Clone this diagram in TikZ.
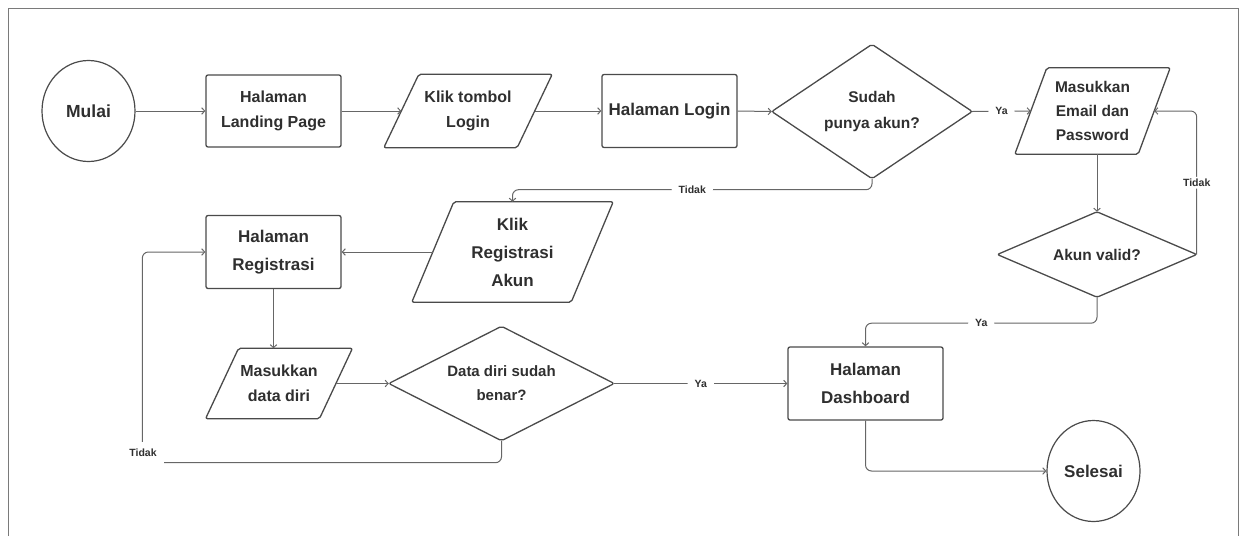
\documentclass[tikz,border=0pt]{standalone}
\usepackage{fontspec}
\setmainfont{Liberation Sans}
\usetikzlibrary{arrows.meta,shapes.geometric}

\definecolor{ink}{HTML}{2F2F2F}
\definecolor{edge}{HTML}{4A4A4A}
\definecolor{wire}{HTML}{666666}
\definecolor{framecol}{HTML}{7A7A7A}

% bold text at a given size and line spacing
\newcommand\fs[2]{\fontsize{#1}{#2}\selectfont\bfseries}

% input/output parallelogram around a (borderless) rectangular node
\newcommand\iobox[2]{%
  \draw[outline] ([xshift=-#2pt]#1.south west) -- ([xshift=-#2pt]#1.south east)
    -- ([xshift=#2pt]#1.north east) -- ([xshift=#2pt]#1.north west) -- cycle;}
% decision diamond through the four side anchors of a node
\newcommand\decision[1]{%
  \draw[outline] (#1.north) -- (#1.east) -- (#1.south) -- (#1.west) -- cycle;}

\tikzset{
  txt/.style={font=\fs{16}{25}, align=center, inner sep=0pt, text=ink},
  procbox/.style={txt, rectangle, draw=edge, line width=1.3pt, rounded corners=2pt},
  termbox/.style={txt, ellipse, draw=edge, line width=1.2pt,
                  minimum width=93pt, minimum height=101pt},
  hidden/.style={txt, rectangle},
  outline/.style={draw=edge, line width=1.3pt, rounded corners=2pt, line join=round},
  conn/.style={draw=wire, line width=1pt, rounded corners=6pt,
               -{Straight Barb[length=3pt,width=6.5pt]}},
  lbl/.style={font=\fs{10.5}{12}, fill=white, text=ink, inner xsep=7pt, inner ysep=2pt},
}

\begin{document}
\begin{tikzpicture}[x=1pt,y=-1pt]
\useasboundingbox (0,0) rectangle (1246,536);

% outer frame (open at the bottom)
\draw[draw=framecol, line width=1.3pt] (8.5,536) -- (8.5,8.5) -- (1238.5,8.5) -- (1238.5,536);

% ---- nodes ----
\node[termbox, font=\fs{17.5}{25}] (mulai) at (88.5,111) {Mulai};
\node[procbox, minimum width=135pt, minimum height=72pt] (landing) at (273.5,111) {Halaman\\Landing Page};
\node[hidden, minimum width=133pt, minimum height=73pt] (tombol) at (468,111) {Klik tombol\\Login};
\node[procbox, font=\fs{17}{25}, minimum width=135pt, minimum height=73pt] (login) at (669.5,111) {Halaman Login};
\node[hidden, font=\fs{15.5}{25.5}, minimum width=200pt, minimum height=134pt] (punya) at (872,111.5) {Sudah\\punya akun?};
\node[hidden, font=\fs{15.5}{24}, minimum width=123pt, minimum height=86pt] (email) at (1092.5,111) {Masukkan\\Email dan\\Password};
\node[hidden, font=\fs{15.5}{24}, minimum width=199pt, minimum height=85pt] (valid) at (1097,254.5) {Akun valid?};
\node[hidden, font=\fs{17}{28}, minimum width=159pt, minimum height=100pt] (klikreg) at (512.5,252) {Klik\\Registrasi\\Akun};
\node[procbox, font=\fs{17}{27.5}, minimum width=135pt, minimum height=73pt] (halreg) at (273.5,252) {Halaman\\Registrasi};
\node[hidden, font=\fs{16}{25}, minimum width=113.5pt, minimum height=70pt] (datadiri) at (279,383.5) {Masukkan\\data diri};
\node[hidden, font=\fs{15}{24}, minimum width=225pt, minimum height=114pt] (benar) at (501.5,383.5) {Data diri sudah\\benar?};
\node[procbox, font=\fs{17}{27.5}, minimum width=155pt, minimum height=73pt] (dash) at (865.5,383.5) {Halaman\\Dashboard};
\node[termbox, font=\fs{17}{25}] (selesai) at (1093.5,471) {Selesai};

% ---- outlines of parallelograms and diamonds ----
\iobox{tombol}{17.5}
\iobox{email}{16}
\iobox{klikreg}{21}
\iobox{datadiri}{16.5}
\decision{punya}
\decision{valid}
\decision{benar}

% ---- connectors ----
\draw[conn] (mulai.east) -- (landing.west);
\draw[conn] (landing.east) -- (tombol.west);
\draw[conn] (tombol.east) -- (login.west);
\draw[conn] (login.east) -- (punya.west);
\draw[conn] (punya.east) -- node[lbl]{Ya} (email.west);
\draw[conn] (punya.south) -- ++(0,11) -| node[lbl,pos=0.25]{Tidak} (klikreg.north);
\draw[conn] (valid.north |- email.south) -- (valid.north);
\draw[conn] (valid.east) |- node[lbl,pos=0.25]{Tidak} (email.east);
\draw[conn] (valid.south) -- ++(0,26) -| node[lbl,pos=0.25]{Ya} (dash.north);
\draw[conn] (klikreg.west) -- (halreg.east);
\draw[conn] (halreg.south) -- (halreg.south |- datadiri.north);
\draw[conn] (datadiri.east) -- (benar.west);
\draw[conn] (benar.east) -- node[lbl]{Ya} (dash.west);
\draw[conn] (benar.south) -- ++(0,22) -| ([xshift=-63pt]halreg.west) -- (halreg.west);
\node[lbl, inner ysep=7.5pt] (tidakloop) at (143,453) {Tidak};
\draw[conn] (dash.south) |- (selesai.west);

\end{tikzpicture}
\end{document}
